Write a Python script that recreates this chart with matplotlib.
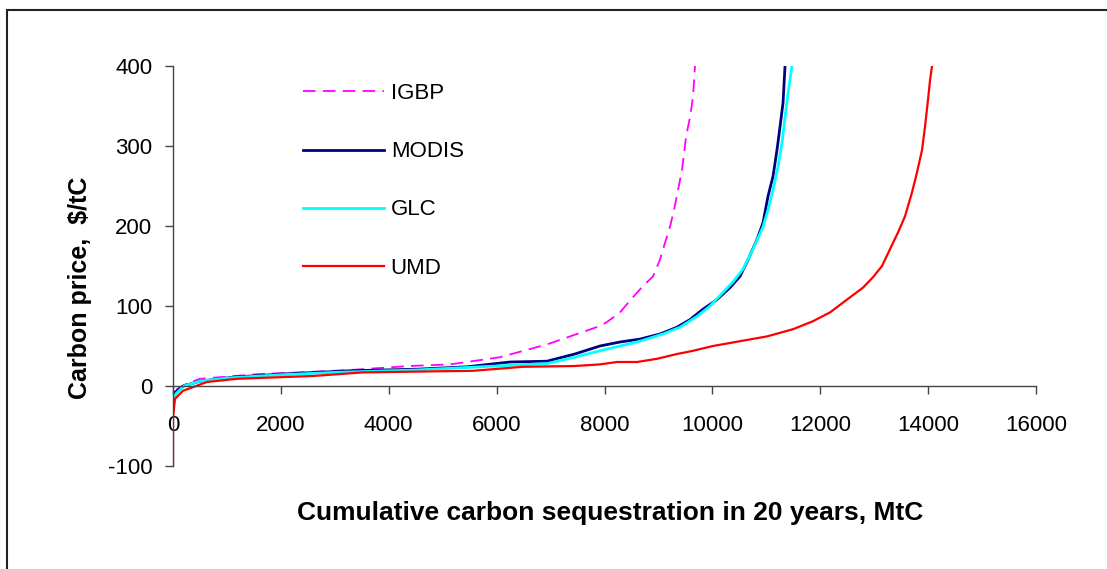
import matplotlib
matplotlib.use("Agg")
import matplotlib.pyplot as plt
from matplotlib.patches import Rectangle

plt.rcParams['font.family'] = ['Liberation Sans', 'DejaVu Sans']

# curvas de custo marginal (MtC acumulado, $/tC)
igbp_x = [0, 0, 74, 260, 500, 1613, 2355, 3282, 4394, 5136, 6063, 6934, 7916, 8046, 8287,
          8528, 8714, 8899, 9029, 9122, 9214, 9289, 9363, 9437, 9511, 9585, 9641, 9678]
igbp_y = [-30, -20, -4, 3, 9, 15, 17, 20, 25, 27, 36, 52, 75, 80, 92,
          111, 125, 137, 158, 179, 199, 220, 245, 270, 311, 336, 361, 400]

modis_x = [0, 0, 37, 185, 500, 1112, 2040, 3282, 4524, 5450, 6248, 6934, 7450, 7916, 8287,
           8658, 9029, 9344, 9585, 9826, 10086, 10327, 10512, 10642, 10827, 10939, 11031,
           11124, 11198, 11254, 11310, 11347]
modis_y = [-30, -20, -8, 0, 6, 11, 15, 19, 21, 24, 30, 31, 40, 50, 55,
           58.6, 65, 73.5, 83, 96, 108, 123, 137, 155, 183, 204, 237,
           262, 295, 324, 354, 400]

glc_x = [0, 0, 50, 200, 500, 1000, 2000, 3000, 4500, 6000, 6934, 7450, 7916, 8287, 8658,
         9085, 9400, 9715, 9956, 10197, 10382, 10568, 10753, 10939, 11031, 11124, 11217,
         11291, 11347, 11402, 11476]
glc_y = [-30, -20, -10, 0, 6, 10, 14, 17, 20, 25, 28, 36, 44, 50, 56,
         65, 73.5, 87, 100, 117, 130, 146, 171, 199, 220, 245, 274,
         304, 336, 366, 400]

umd_x = [0, 0, 37, 185, 630, 1186, 2596, 3523, 5562, 6489, 7450, 7916, 8232, 8602, 8973,
         9344, 9641, 10012, 10512, 11013, 11495, 11866, 12181, 12496, 12793, 12978, 13145,
         13293, 13442, 13571, 13701, 13794, 13887, 13942, 13998, 14035, 14072]
umd_y = [-100, -40, -16, -6, 5, 9, 12.5, 17, 19, 24, 25, 27, 30, 30, 34,
         40, 44, 50, 56, 62, 71, 81, 92, 108, 123, 136, 150,
         171, 192, 212, 242, 267, 295, 324, 358, 382, 400]

x_ticks = [0, 2000, 4000, 6000, 8000, 10000, 12000, 14000, 16000]
y_ticks = [-100, 0, 100, 200, 300, 400]

fig = plt.figure(figsize=(11.07, 5.69), dpi=100)
ax = fig.add_axes([173/1107, 1 - 466/569, 863/1107, 400/569])

ax.plot(igbp_x, igbp_y, color='#ff00ff', lw=1.3, ls=(0, (7, 4)), label='IGBP')
ax.plot(modis_x, modis_y, color='#000080', lw=2.0, label='MODIS')
ax.plot(glc_x, glc_y, color='#00ffff', lw=2.0, label='GLC')
ax.plot(umd_x, umd_y, color='#ff0000', lw=1.6, label='UMD')

ax.set_xlim(0, 16000)
ax.set_ylim(-100, 400)
ax.set_xticks(x_ticks)
ax.set_yticks(y_ticks)
ax.set_xticklabels([str(t) for t in x_ticks])
ax.set_yticklabels([str(t) for t in y_ticks])

# eixo x cruzando em y = 0
ax.spines['bottom'].set_position(('data', 0))
ax.spines['top'].set_visible(False)
ax.spines['right'].set_visible(False)
for s in ('bottom', 'left'):
    ax.spines[s].set_color('#444444')
    ax.spines[s].set_linewidth(1.0)
ax.tick_params(axis='both', direction='out', length=6, width=1, color='#444444',
               labelsize=16)
ax.tick_params(axis='x', pad=15)
ax.tick_params(axis='y', pad=9)

ax.set_xlabel('Cumulative carbon sequestration in 20 years, MtC', fontsize=19,
              fontweight='bold', va='center')
ax.xaxis.set_label_coords(0.506, -0.1175)
ax.set_ylabel('Carbon price,  $/tC', fontsize=18, fontweight='bold', va='center')
ax.yaxis.set_label_coords(-0.108, 0.445)

ax.legend(loc='upper left', bbox_to_anchor=(0.1506, 0.957), frameon=False,
          fontsize=16, handlelength=3.65, handletextpad=0.3, labelspacing=1.67,
          borderpad=0, borderaxespad=0)

# moldura da figura
fig.patches.append(Rectangle((7/1107, -0.1), 1.2, 1.1 - 10/569, transform=fig.transFigure,
                             fill=False, edgecolor='#222222', lw=1.5))

fig.savefig('out.png', dpi=100)
